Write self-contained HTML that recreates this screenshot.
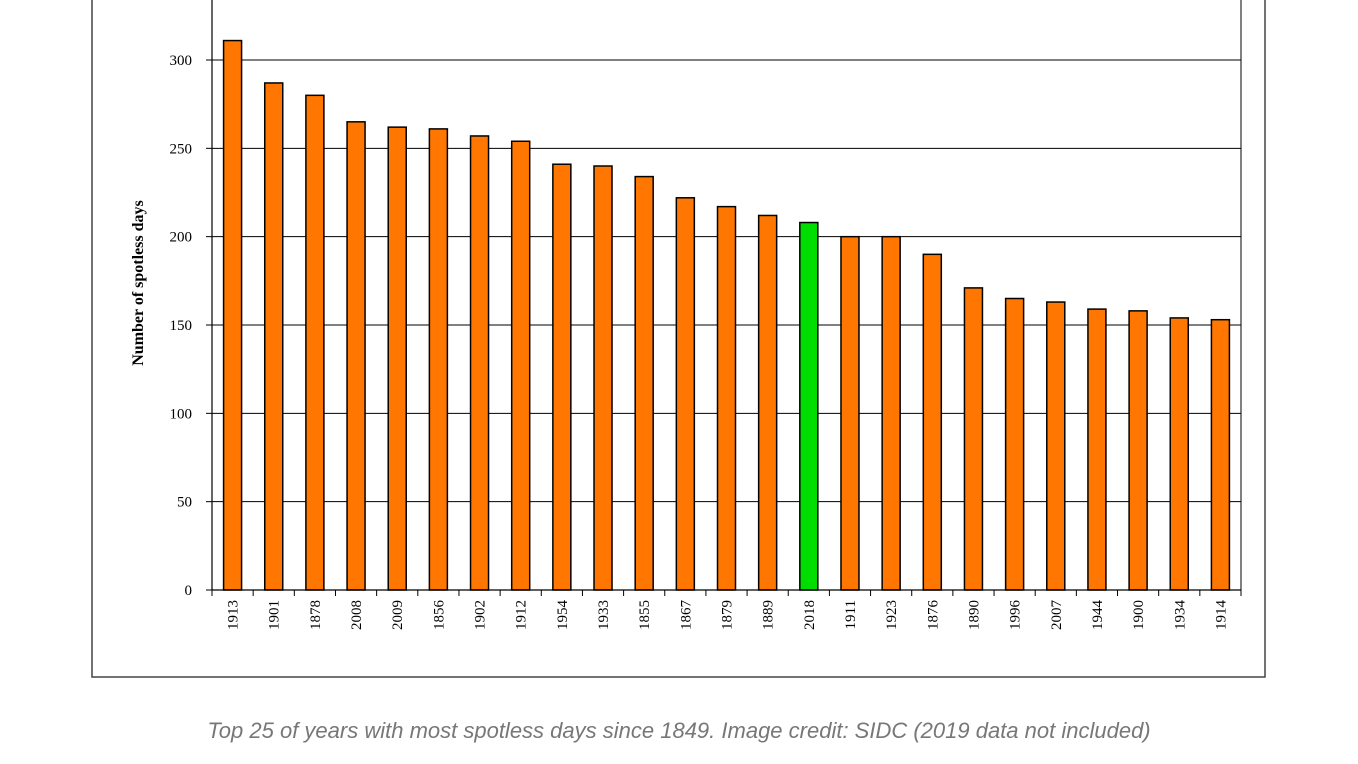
<!DOCTYPE html>
<html><head><meta charset="utf-8"><style>
body{margin:0;background:#fff;width:1358px;height:764px;overflow:hidden;}
svg{display:block}
</style></head><body>
<svg width="1358" height="764">
<rect x="92" y="-5" width="1173" height="682" fill="#fff" stroke="#444" stroke-width="1.5"/>
<g id="grid"></g>
<g id="bars"></g>
<g id="axes"></g>
<text x="0" y="0" transform="translate(143,283) rotate(-90)" text-anchor="middle" font-family="Liberation Serif, serif" font-weight="bold" font-size="16">Number of spotless days</text>
<text x="679" y="738" text-anchor="middle" font-family="Liberation Sans, sans-serif" font-style="italic" font-size="22" fill="#777">Top 25 of years with most spotless days since 1849. Image credit: SIDC (2019 data not included)</text>
</svg>
<script>
const categories=["1913","1901","1878","2008","2009","1856","1902","1912","1954","1933","1855","1867","1879","1889","2018","1911","1923","1876","1890","1996","2007","1944","1900","1934","1914"];
const values=[311,287,280,265,262,261,257,254,241,240,234,222,217,212,208,200,200,190,171,165,163,159,158,154,153];
const highlight=["2018"];
const yTicks=[0,50,100,150,200,250,300];
const NS="http://www.w3.org/2000/svg";
const x0=212,x1=1241,yBase=590,yTop=60,vMax=300;
const step=(x1-x0)/categories.length;
function y(v){return yBase-(v/vMax)*(yBase-yTop);}
function mk(t,a,p){const e=document.createElementNS(NS,t);for(const k in a)e.setAttribute(k,a[k]);p.appendChild(e);return e;}
const grid=document.getElementById('grid'),bars=document.getElementById('bars'),axes=document.getElementById('axes');
yTicks.forEach(v=>{
 if(v>0){const l=mk('line',{x1:x0,x2:x1,y1:y(v),y2:y(v),stroke:'#000','stroke-width':1},grid);
 
 }
 const tk=mk('line',{x1:x0-6,x2:x0,y1:y(v),y2:y(v),stroke:'#000'},axes);
 
 
 const t=mk('text',{x:x0-20,y:y(v)+5,'text-anchor':'end','font-family':'Liberation Serif, serif','font-size':15},axes);
 t.textContent=v;
 
 
});
categories.forEach((c,i)=>{
 const cx=x0+step*(i+0.5);
 const r=mk('rect',{x:cx-9,y:y(values[i]),width:18,height:yBase-y(values[i]),fill:highlight.includes(c)?'#00dd00':'#ff7700',stroke:'#000','stroke-width':1.5},bars);
 
 
 const t=mk('text',{x:0,y:0,transform:`translate(${cx+5},${yBase+10}) rotate(-90)`,'text-anchor':'end','font-family':'Liberation Serif, serif','font-size':15},axes);
 t.textContent=c;
 
 
});
for(let i=0;i<=categories.length;i++){
 const tx=x0+step*i;
 const l=mk('line',{x1:tx,x2:tx,y1:yBase,y2:yBase+6,stroke:'#000'},axes);
 
 
}
const ya=mk('line',{x1:x0,x2:x0,y1:-5,y2:yBase,stroke:'#000','stroke-width':1.2},axes);


const yr=mk('line',{x1:x1,x2:x1,y1:-5,y2:yBase,stroke:'#000','stroke-width':1},axes);


const xa=mk('line',{x1:x0,x2:x1,y1:yBase,y2:yBase,stroke:'#000','stroke-width':1.2},axes);


</script>
</body></html>
